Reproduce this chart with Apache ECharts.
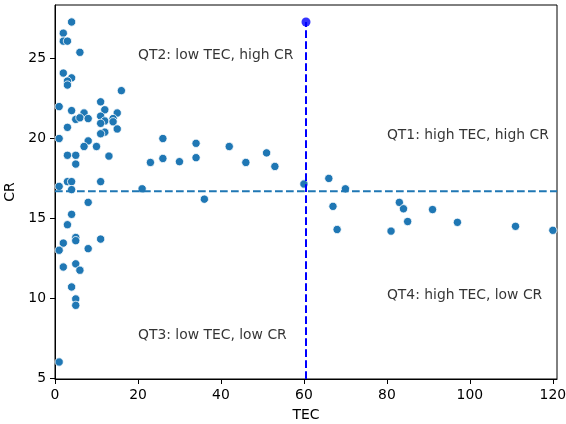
<!DOCTYPE html>
<html>
<head>
<meta charset="utf-8">
<script src="https://cdn.jsdelivr.net/npm/echarts@6/dist/echarts.min.js"></script>
<style>
html,body{margin:0;padding:0;background:#fff;overflow:hidden;}
#chart{width:566px;height:424px;}
</style>
</head>
<body>
<div id="chart"></div>
<script>
// Data
var tec = [4,2,2,3,6,2,4,3,3,16,1,11,12,4,7,15,11,5,6,8,12,14,14,11,15,3,12,11,1,8,7,10,3,5,13,5,1,3,4,4,11,8,4,3,2,5,5,11,1,8,2,5,6,4,5,5,1,
           21,23,26,26,30,34,34,36,42,46,51,53,60,66,70,67,68,83,84,85,81,91,97,111,120];
var cr  = [27.3,26.6,26.1,26.1,25.4,24.1,23.8,23.6,23.35,23.0,22.0,22.3,21.8,21.75,21.6,21.6,21.4,21.2,21.3,21.25,21.1,21.25,21.05,20.95,20.6,20.7,20.4,20.3,20.0,19.85,19.5,19.5,18.95,18.95,18.9,18.4,17.0,17.3,17.3,16.8,17.3,16.0,15.25,14.6,13.45,13.8,13.6,13.7,13.0,13.1,11.95,12.15,11.75,10.7,9.95,9.55,6.0,
           16.85,18.5,20.0,18.75,18.55,19.7,18.8,16.2,19.5,18.5,19.1,18.25,17.15,17.5,16.85,15.75,14.3,16.0,15.6,14.8,14.2,15.55,14.75,14.5,14.25];
var crThreshold = 16.7;
var highlight = [60.5, 27.3];
var annTexts = ['QT2: low TEC, high CR','QT1: high TEC, high CR','QT3: low TEC, low CR','QT4: high TEC, low CR'];
var annX = [20, 80, 20, 80];
var annY = [25, 20, 7.5, 10];
var xTicks = [0,20,40,60,80,100,120];
var yTicks = [5,10,15,20,25];
var xRange = [0, 121];
var yRange = [4.935, 28.365];

var pts = tec.map(function(t,i){return [t, cr[i]];});
var ann = annTexts.map(function(s,i){return {name:s, value:[annX[i], annY[i]]};});
var FS = 13.9;
var font = 'DejaVu Sans';

var chart = echarts.init(document.getElementById('chart'), null, {renderer:'canvas'});
chart.setOption({
  animation:false,
  backgroundColor:'#fff',
  grid:{left:55, right:9, top:5, bottom:45, show:true, borderColor:'#000', borderWidth:1,
        containLabel:false, outerBoundsMode:'none'},
  xAxis:{
    type:'value', min:xRange[0], max:xRange[1], interval:20,
    name:'TEC', nameLocation:'middle', nameGap:29,
    nameTextStyle:{fontFamily:font, fontSize:FS, color:'#000'},
    axisLine:{show:true, lineStyle:{color:'#000', width:1}},
    axisTick:{show:true, length:5, lineStyle:{color:'#000'}, customValues: xTicks},
    axisLabel:{fontFamily:font, fontSize:FS, color:'#000', margin:9, customValues: xTicks,
      formatter:function(v){return String(Math.round(v));}},
    splitLine:{show:false}
  },
  yAxis:{
    type:'value', min:yRange[0], max:yRange[1], interval:5,
    name:'CR', nameLocation:'middle', nameGap:35,
    nameTextStyle:{fontFamily:font, fontSize:FS, color:'#000'},
    axisLine:{show:true, lineStyle:{color:'#000', width:1}},
    axisTick:{show:true, length:5, lineStyle:{color:'#000'}, customValues: yTicks},
    axisLabel:{fontFamily:font, fontSize:FS, color:'#000', margin:9, customValues: yTicks,
      formatter:function(v){return String(Math.round(v));}},
    splitLine:{show:false}
  },
  series:[
    {type:'scatter', data:pts, symbolSize:8.3, z:2,
     itemStyle:{color:'#1f77b4', borderColor:'#fff', borderWidth:0.8, opacity:1}},
    {type:'line', data:[[xRange[0],crThreshold],[xRange[1],crThreshold]], symbol:'none', z:3,
     lineStyle:{color:'#1f77b4', width:2, type:[7.7,3.3]}},
    {type:'line', data:[[highlight[0],yRange[0]],[highlight[0],highlight[1]]], symbol:'none', z:3,
     lineStyle:{color:'#0000ff', width:2, type:[7.7,3.3]}},
    {type:'scatter', data:[highlight], symbolSize:9, z:4, itemStyle:{color:'#0000ff'}},
    {type:'scatter', data:ann, symbolSize:0, z:5, silent:true,
     label:{show:true, position:[0,0], align:'left', verticalAlign:'bottom', offset:[0,4],
       formatter:function(p){return p.name;}, fontFamily:font, fontSize:FS, color:'#000'}}
  ]
});
</script>
</body>
</html>
